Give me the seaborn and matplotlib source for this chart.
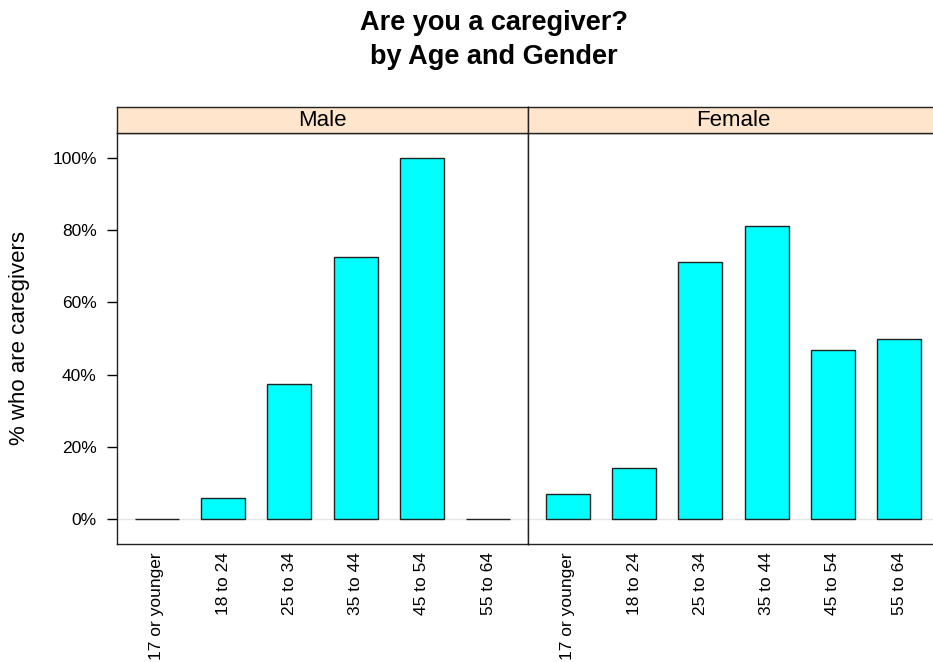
import matplotlib
matplotlib.use('Agg')
import matplotlib.pyplot as plt
import matplotlib.ticker as mticker
import seaborn as sns
import pandas as pd

sns.set_style('white')
plt.rcParams['font.family'] = ['Liberation Sans', 'DejaVu Sans']
plt.rcParams['text.color'] = 'black'

age_groups = ['17 or younger', '18 to 24', '25 to 34', '35 to 44', '45 to 54', '55 to 64']
genders = ['Male', 'Female']
male_pct = [0.0, 0.057, 0.375, 0.725, 1.0, 0.0]
female_pct = [0.07, 0.142, 0.712, 0.811, 0.467, 0.50]

data = pd.DataFrame({
    'age': age_groups * 2,
    'gender': ['Male'] * 6 + ['Female'] * 6,
    'pct': male_pct + female_pct,
})

W, H = 933, 662
fig = plt.figure(figsize=(W / 100, H / 100), dpi=100)

# panel geometry in pixels (lattice-like layout)
left_px, mid_px, right_px = 117, 528, 939
strip_top, strip_bot, panel_bot = 107, 133, 544

for i, g in enumerate(genders):
    x0 = left_px if i == 0 else mid_px
    x1 = mid_px if i == 0 else right_px
    ax = fig.add_axes([x0 / W, 1 - panel_bot / H, (x1 - x0) / W, (panel_bot - strip_bot) / H])
    ax.axhline(0, color='#e6e6e6', lw=1, zorder=0)
    sub = data[data['gender'] == g]
    sns.barplot(data=sub, x='age', y='pct', order=age_groups, color='#00ffff',
                saturation=1, width=0.667, edgecolor='#222222', linewidth=1, ax=ax, zorder=2)
    ax.set_xlim(-0.6, 5.6)
    ax.set_ylim(-0.07, 1.07)
    ax.set_xlabel('')
    ax.set_ylabel('')
    ax.tick_params(axis='x', length=0, pad=6, labelsize=12.5, labelrotation=90, colors='black')
    for lbl in ax.get_xticklabels():
        lbl.set_verticalalignment('top')
    if i == 0:
        ax.yaxis.set_major_locator(mticker.FixedLocator([0, 0.2, 0.4, 0.6, 0.8, 1.0]))
        ax.yaxis.set_major_formatter(mticker.PercentFormatter(1.0, decimals=0))
        ax.tick_params(axis='y', left=True, length=7.5, width=1, pad=7, labelsize=12.5, colors='black')
    else:
        ax.set_yticks([])
    for s in ax.spines.values():
        s.set_color('#222222')
        s.set_linewidth(1)

    # strip on top of each panel
    sax = fig.add_axes([x0 / W, 1 - strip_bot / H, (x1 - x0) / W, (strip_bot - strip_top) / H])
    sax.set_facecolor('#ffe5cc')
    sax.set_xticks([])
    sax.set_yticks([])
    for s in sax.spines.values():
        s.set_color('#222222')
        s.set_linewidth(1)
    sax.text(0.5, 0.47, g, ha='center', va='center', fontsize=16, transform=sax.transAxes)

fig.text(20 / W, 1 - 338 / H, '% who are caregivers', rotation=90, ha='center', va='center',
         fontsize=16)
fig.text(494 / W, 1 - 23 / H, 'Are you a caregiver?', ha='center', va='center',
         fontsize=19.5, fontweight='bold')
fig.text(494 / W, 1 - 57 / H, 'by Age and Gender', ha='center', va='center',
         fontsize=19.5, fontweight='bold')

fig.savefig('out.png', dpi=100)
